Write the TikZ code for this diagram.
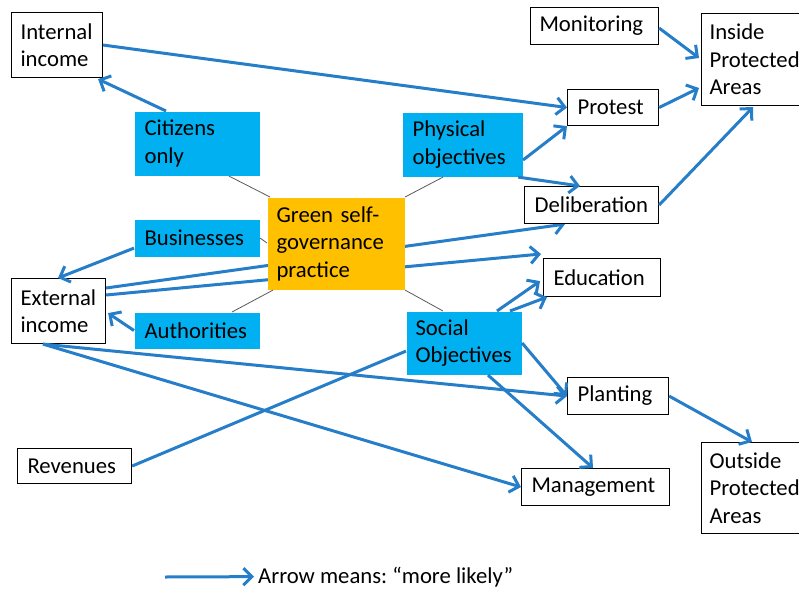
\documentclass[tikz,border=0pt]{standalone}
\usepackage{fontspec}
\setmainfont{Carlito}
\usetikzlibrary{arrows.meta,calc,backgrounds}
\frenchspacing
\definecolor{arrowblue}{RGB}{38,126,200}
\definecolor{catcyan}{RGB}{0,176,240}
\definecolor{coreorange}{RGB}{255,192,0}
\newcommand{\labelfont}{\fontsize{22.7}{27.5}\selectfont}
\tikzset{
  box/.style={draw=black, line width=1.1pt, fill=white, align=left,
    inner xsep=9pt, inner ysep=0pt, anchor=north west, font=\labelfont},
  catbox/.style={box, draw=none, fill=catcyan},
  corebox/.style={box, draw=none, fill=coreorange},
  likely/.style={draw=arrowblue, line width=3pt,
    -{Straight Barb[length=8.5pt,width=17pt]}},
  plainlink/.style={draw=arrowblue, line width=3pt},
  spoke/.style={draw=black!65, line width=0.8pt},
}
\begin{document}
\begin{tikzpicture}[x=1pt, y=-1pt]
\useasboundingbox (0,0) rectangle (799,588);

% outcome and input boxes
\node[box, text width=73pt, minimum height=65pt] (internal) at (11,12) {Internal\\income};
\node[box, text width=76pt, minimum height=65pt] (external) at (11,278) {External\\income};
\node[box, inner xsep=10pt, text width=94pt, minimum height=35pt] (revenues) at (17,448) {Revenues};
\node[box, text width=110pt, minimum height=37pt] (monitoring) at (530,7) {Monitoring};
\node[box, inner xsep=8pt, text width=94pt, minimum height=92pt] (inside) at (701,13) {Inside\\Protected\\Areas};
\node[box, inner xsep=10pt, text width=71pt, minimum height=36pt] (protest) at (567,89) {Protest};
\node[box, inner xsep=10pt, text width=114pt, minimum height=37pt] (deliberation) at (524,186) {Deliberation};
\node[box, inner xsep=10pt, text width=97pt, minimum height=38pt] (education) at (543,258) {Education};
\node[box, inner xsep=10pt, text width=81pt, minimum height=37pt] (planting) at (567,377) {Planting};
\node[box, inner xsep=10pt, text width=128pt, minimum height=37pt] (management) at (521,468) {Management};
\node[box, inner xsep=8pt, text width=94pt, minimum height=91pt] (outside) at (701,442) {Outside\\Protected\\Areas};

% categories
\node[catbox, inner xsep=10pt, text width=105pt, minimum height=64pt] (citizens) at (134,111) {Citizens\\only};
\node[catbox, inner xsep=10pt, text width=105pt, minimum height=37pt] (businesses) at (134,219) {Businesses};
\node[catbox, inner xsep=10pt, text width=105pt, minimum height=36pt] (authorities) at (134,312) {Authorities};
\node[catbox, inner xsep=10pt, text width=100pt, minimum height=64pt] (physical) at (402,112) {Physical\\objectives};
\node[catbox, text width=97pt, minimum height=63pt] (social) at (406,311) {Social\\Objectives};

% central practice
\node[corebox, text width=119pt, minimum height=92pt] (green) at (267,197) {Green self-\\governance\\practice};

% links drawn beneath the boxes
\begin{scope}[on background layer]
\path[likely] ($(external.north east)+(0,10)$) -- ($(deliberation.south west)+(41,0)$);
\path[likely] ($(external.north east)+(0,17)$) -- ($(education.north west)+(-2,-4)$);
\path[plainlink] (revenues.east) -- ($(social.south west)+(0,-24)$);
\end{scope}

% spokes around the central practice
\path[spoke] ($(citizens.south west)+(95,0)$) -- ($(green.north west)+(3,0)$);
\path[spoke] (businesses.east) -- ($(green.north west)+(0,46)$);
\path[spoke] ($(authorities.north west)+(98,0)$) -- ($(green.south west)+(6,0)$);
\path[spoke] ($(physical.south west)+(41,0)$) -- (green.north east);
\path[spoke] ($(social.north west)+(37,0)$) -- (green.south east);

% "more likely" arrows
\path[likely] (internal.east) -- (protest.west);
\path[likely] ($(citizens.north west)+(32,0)$) -- ($(internal.south east)+(-5,1)$);
\path[likely] ($(businesses.south west)+(0,-9)$) -- ($(external.north west)+(47,0)$);
\path[likely] (authorities.west) -- ($(external.south east)+(2,-31)$);
\path[likely] ($(external.south west)+(32,0)$) -- (planting.west);
\path[likely] ($(external.south west)+(32,0)$) -- (management.west);
\path[likely] ($(physical.north east)+(0,48)$) -- (protest.south west);
\path[likely] ($(physical.south east)+(-5,0)$) -- ($(deliberation.north west)+(56,0)$);
\path[likely] ($(monitoring.east)+(0,2)$) -- ($(inside.north west)+(-2,45)$);
\path[likely] (protest.east) -- ($(inside.north west)+(-2,75)$);
\path[likely] (deliberation.east) -- ($(inside.south west)+(52,1)$);
\path[likely] ($(social.north west)+(91,0)$) -- ($(education.south west)+(-3,-16)$);
\path[likely] ($(social.north west)+(104,0)$) -- ($(education.south west)+(4,0)$);
\path[likely] ($(social.north east)+(0,32)$) -- (planting.west);
\path[likely] ($(social.south west)+(82,0)$) -- ($(management.north west)+(72,0)$);
\path[likely] (planting.east) -- ($(outside.north west)+(51,0)$);

% legend
\coordinate (legendstart) at (165,577);
\node[anchor=base west, inner sep=0pt, font=\labelfont] (legendtext) at (258,583) {Arrow means: “more likely”};
\path[likely] (legendstart) -- ($(legendtext.west)+(-4,0)$ |- legendstart);
\end{tikzpicture}
\end{document}
